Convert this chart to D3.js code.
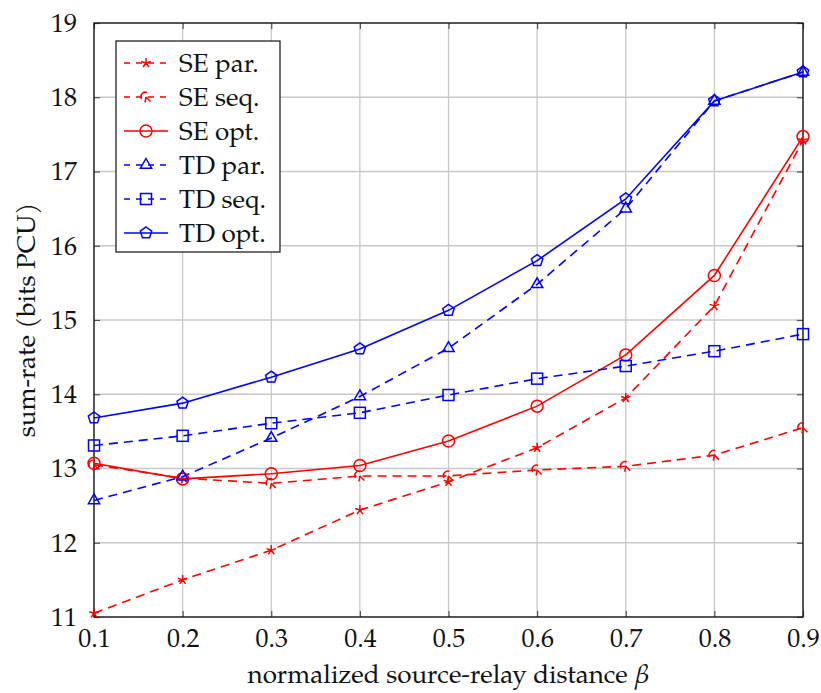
<!DOCTYPE html>
<html>
<head>
<meta charset="utf-8">
<script src="https://cdn.jsdelivr.net/npm/d3@7"></script>
<style>
  html, body { margin: 0; padding: 0; background: #fff; }
  svg { display: block; }
</style>
</head>
<body>
<svg id="chart" width="821" height="693"></svg>
<script>
// ---- data ----
const betas = [0.1, 0.2, 0.3, 0.4, 0.5, 0.6, 0.7, 0.8, 0.9];
const sePar = [11.05, 11.50, 11.90, 12.44, 12.82, 13.28, 13.95, 15.19, 17.42];
const seSeq = [13.05, 12.87, 12.80, 12.90, 12.90, 12.98, 13.03, 13.18, 13.55];
const seOpt = [13.07, 12.86, 12.93, 13.04, 13.37, 13.84, 14.53, 15.60, 17.47];
const tdPar = [12.57, 12.89, 13.41, 13.97, 14.62, 15.48, 16.50, 17.95, 18.34];
const tdSeq = [13.31, 13.44, 13.61, 13.75, 13.99, 14.21, 14.38, 14.58, 14.81];
const tdOpt = [13.68, 13.88, 14.23, 14.61, 15.13, 15.80, 16.63, 17.95, 18.34];
const xTicks = [0.1, 0.2, 0.3, 0.4, 0.5, 0.6, 0.7, 0.8, 0.9];
const yTicks = [11, 12, 13, 14, 15, 16, 17, 18, 19];
const seriesNames = ["SE par.", "SE seq.", "SE opt.", "TD par.", "TD seq.", "TD opt."];
const xLabel = "normalized source-relay distance ";
const xLabelSym = "\u03B2";
const yLabel = "sum-rate (bits PCU)";

const series = [
  { name: seriesNames[0], values: sePar, color: "#ff0000", dashed: true,  marker: "star" },
  { name: seriesNames[1], values: seSeq, color: "#ff0000", dashed: true,  marker: "curl" },
  { name: seriesNames[2], values: seOpt, color: "#ff0000", dashed: false, marker: "circle" },
  { name: seriesNames[3], values: tdPar, color: "#0000ff", dashed: true,  marker: "triangle" },
  { name: seriesNames[4], values: tdSeq, color: "#0000ff", dashed: true,  marker: "square" },
  { name: seriesNames[5], values: tdOpt, color: "#0000ff", dashed: false, marker: "pentagon" }
];

const FONT = "'TeX Gyre Pagella'";
const FS = 26;

// ---- layout ----
const L = 94, T = 23, R = 803, B = 617;
const svg = d3.select("#chart");
const x = d3.scaleLinear().domain([0.1, 0.9]).range([L, R]);
const y = d3.scaleLinear().domain([11, 19]).range([B, T]);

function styleText(sel) {
  return sel.style("font-family", FONT).style("font-size", FS + "px").attr("fill", "#111");
}

// grid
const grid = svg.append("g");
grid.selectAll("line.gx").data(xTicks).enter().append("line")
  .attr("x1", d => x(d)).attr("x2", d => x(d)).attr("y1", T).attr("y2", B)
  .attr("stroke", "#c8c8c8").attr("stroke-width", 1.3);
grid.selectAll("line.gy").data(yTicks).enter().append("line")
  .attr("x1", L).attr("x2", R).attr("y1", d => y(d)).attr("y2", d => y(d))
  .attr("stroke", "#c8c8c8").attr("stroke-width", 1.3);

// axes with inward ticks
const tk = 6;
const axB = svg.append("g").attr("transform", `translate(0,${B})`)
  .call(d3.axisBottom(x).tickValues(xTicks).tickSizeInner(-tk).tickSizeOuter(0).tickPadding(12).tickFormat(d3.format(".1f")));
const axT = svg.append("g").attr("transform", `translate(0,${T})`)
  .call(d3.axisTop(x).tickValues(xTicks).tickSizeInner(-tk).tickSizeOuter(0).tickFormat(""));
const axL = svg.append("g").attr("transform", `translate(${L},0)`)
  .call(d3.axisLeft(y).tickValues(yTicks).tickSizeInner(-tk).tickSizeOuter(0).tickPadding(17).tickFormat(d3.format("d")));
const axR = svg.append("g").attr("transform", `translate(${R},0)`)
  .call(d3.axisRight(y).tickValues(yTicks).tickSizeInner(-tk).tickSizeOuter(0).tickFormat(""));
[axB, axT, axL, axR].forEach(a => {
  a.attr("font-family", null).attr("font-size", null);
  a.select(".domain").remove();
  a.selectAll(".tick line").attr("stroke", "#555").attr("stroke-width", 1.2);
  styleText(a.selectAll("text"));
});
axB.selectAll("text").attr("dy", "0.71em");

// frame
svg.append("rect").attr("x", L).attr("y", T).attr("width", R - L).attr("height", B - T)
  .attr("fill", "none").attr("stroke", "#111").attr("stroke-width", 1.3);

// markers
function drawMarker(g, type, cx, cy, color) {
  const s = { fill: "none", stroke: color, "stroke-width": 1.5 };
  const apply = sel => { Object.entries(s).forEach(([k, v]) => sel.attr(k, v)); return sel; };
  if (type === "circle") {
    apply(g.append("circle").attr("cx", cx).attr("cy", cy).attr("r", 6));
  } else if (type === "square") {
    apply(g.append("rect").attr("x", cx - 5.5).attr("y", cy - 5.5).attr("width", 11).attr("height", 11));
  } else if (type === "triangle") {
    const r = 6.5;
    const pts = [[0, -r], [r * 0.866, r * 0.5], [-r * 0.866, r * 0.5]].map(p => [cx + p[0], cy + p[1]]);
    apply(g.append("path").attr("d", d3.line()(pts) + "Z"));
  } else if (type === "pentagon") {
    const r = 6;
    const pts = d3.range(5).map(i => {
      const a = -Math.PI / 2 + i * 2 * Math.PI / 5;
      return [cx + r * Math.cos(a), cy + r * Math.sin(a)];
    });
    apply(g.append("path").attr("d", d3.line()(pts) + "Z"));
  } else if (type === "star") {
    const r = 5;
    const d = d3.range(5).map(i => {
      const a = -Math.PI / 2 + i * 2 * Math.PI / 5;
      return `M${cx},${cy}L${cx + r * Math.cos(a)},${cy + r * Math.sin(a)}`;
    }).join("");
    apply(g.append("path").attr("d", d));
  } else if (type === "curl") {
    const r = 4.5;
    const d = `M${cx - r},${cy + 2} A${r},${r} 0 0 1 ${cx + 1},${cy - r} M${cx},${cy} L${cx + r},${cy + r} M${cx},${cy} L${cx - 1},${cy + r + 1}`;
    apply(g.append("path").attr("d", d));
  }
}

const lineGen = d3.line().x((d, i) => x(betas[i])).y(d => y(d));
const plot = svg.append("g");
series.forEach(s => {
  plot.append("path").attr("d", lineGen(s.values))
    .attr("fill", "none").attr("stroke", s.color).attr("stroke-width", 1.6)
    .attr("stroke-dasharray", s.dashed ? "9,6" : null);
});
series.forEach(s => {
  const g = plot.append("g");
  s.values.forEach((v, i) => drawMarker(g, s.marker, x(betas[i]), y(v), s.color));
});

// labels
const xl = styleText(svg.append("text").attr("x", (L + R) / 2).attr("y", 683).attr("text-anchor", "middle"));
xl.append("tspan").text(xLabel);
xl.append("tspan").style("font-style", "italic").text(xLabelSym);
styleText(svg.append("text").attr("transform", `translate(35,${(T + B) / 2}) rotate(-90)`).attr("text-anchor", "middle")).text(yLabel);

// legend
const lg = svg.append("g");
lg.append("rect").attr("x", 116).attr("y", 41).attr("width", 164).attr("height", 211)
  .attr("fill", "#fff").attr("stroke", "#111").attr("stroke-width", 1.2);
series.forEach((s, i) => {
  const ly = 63 + i * 34;
  lg.append("line").attr("x1", 124).attr("x2", 168).attr("y1", ly).attr("y2", ly)
    .attr("stroke", s.color).attr("stroke-width", 1.6)
    .attr("stroke-dasharray", s.dashed ? "6,6" : null);
  drawMarker(lg, s.marker, 146, ly, s.color);
  styleText(lg.append("text").attr("x", 179).attr("y", ly).attr("dy", "0.35em")).text(s.name);
});
</script>
</body>
</html>
